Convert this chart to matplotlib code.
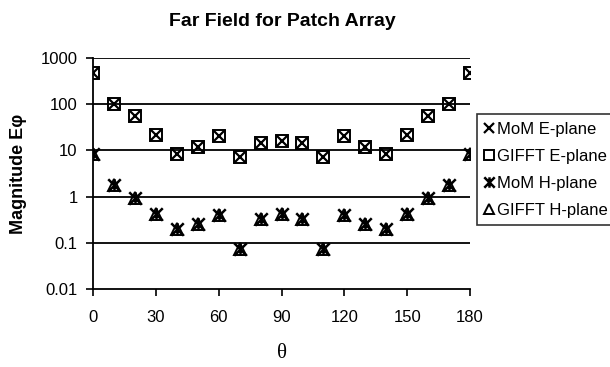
import matplotlib
matplotlib.use("Agg")
import matplotlib.pyplot as plt
from matplotlib.path import Path

theta = [0, 10, 20, 30, 40, 50, 60, 70, 80, 90, 100, 110, 120, 130, 140, 150, 160, 170, 180]
e_plane = [470, 100, 55, 21, 8.5, 11.5, 20, 7.2, 14.5, 16, 14.5, 7.2, 20, 11.5, 8.5, 21, 55, 100, 470]
h_plane = [8.5, 1.8, 0.95, 0.41, 0.2, 0.25, 0.39, 0.075, 0.32, 0.41, 0.32, 0.075, 0.39, 0.25, 0.2, 0.41, 0.95, 1.8, 8.5]
y_ticks = [0.01, 0.1, 1, 10, 100, 1000]
y_tick_labels = ["0.01", "0.1", "1", "10", "100", "1000"]
x_ticks = [0, 30, 60, 90, 120, 150, 180]

plt.rcParams['font.family'] = ['Liberation Sans', 'DejaVu Sans']

star = Path([(-1, -1), (1, 1), (-1, 1), (1, -1), (0, -1), (0, 1)],
            [Path.MOVETO, Path.LINETO, Path.MOVETO, Path.LINETO, Path.MOVETO, Path.LINETO])

fig = plt.figure(figsize=(6.1, 3.67), dpi=100)
ax = fig.add_axes([0.1525, 0.2125, 0.618, 0.63])

for y in y_ticks[1:]:
    ax.axhline(y, color='black', lw=1.3, zorder=1)

ax.plot(theta, e_plane, ls='none', marker='x', ms=8, mew=1.6, color='black', label='MoM E-plane', zorder=3)
ax.plot(theta, e_plane, ls='none', marker='s', ms=9, mew=1.4, mfc='none', mec='black', label='GIFFT E-plane', zorder=3)
ax.plot(theta, h_plane, ls='none', marker=star, ms=9, mew=1.8, color='black', label='MoM H-plane', zorder=3)
ax.plot(theta, h_plane, ls='none', marker='^', ms=9, mew=1.4, mfc='none', mec='black', label='GIFFT H-plane', zorder=3)

ax.set_yscale('log')
ax.set_ylim(0.01, 1000)
ax.set_xlim(0, 180)
ax.set_yticks(y_ticks)
ax.set_yticklabels(y_tick_labels)
ax.minorticks_off()
ax.set_xticks(x_ticks)
ax.tick_params(axis='both', labelsize=12, length=5, width=1.2, direction='out', colors='black')
ax.tick_params(axis='y', pad=6)
ax.tick_params(axis='x', pad=10)
for s in ['top', 'right']:
    ax.spines[s].set_visible(False)
for s in ['left', 'bottom']:
    ax.spines[s].set_linewidth(1.3)

fig.text(0.463, 0.965, 'Far Field for Patch Array', fontsize=14, fontweight='bold',
         ha='center', va='top')
ax.set_ylabel('Magnitude E\u03c6', fontsize=13, fontweight='bold', labelpad=10)
ax.set_xlabel('\u03b8', fontsize=15, family=['Liberation Serif', 'DejaVu Serif'], labelpad=14)

leg = ax.legend(loc='upper left', bbox_to_anchor=(1.018, 0.755), fontsize=12,
                frameon=True, fancybox=False, edgecolor='black', handlelength=0.6,
                handletextpad=0.15, borderpad=0.45, labelspacing=0.72, borderaxespad=0)
leg.get_frame().set_linewidth(1.2)
for h in leg.legend_handles:
    h.set_markersize(7.5)

fig.savefig('out.png', dpi=100)
